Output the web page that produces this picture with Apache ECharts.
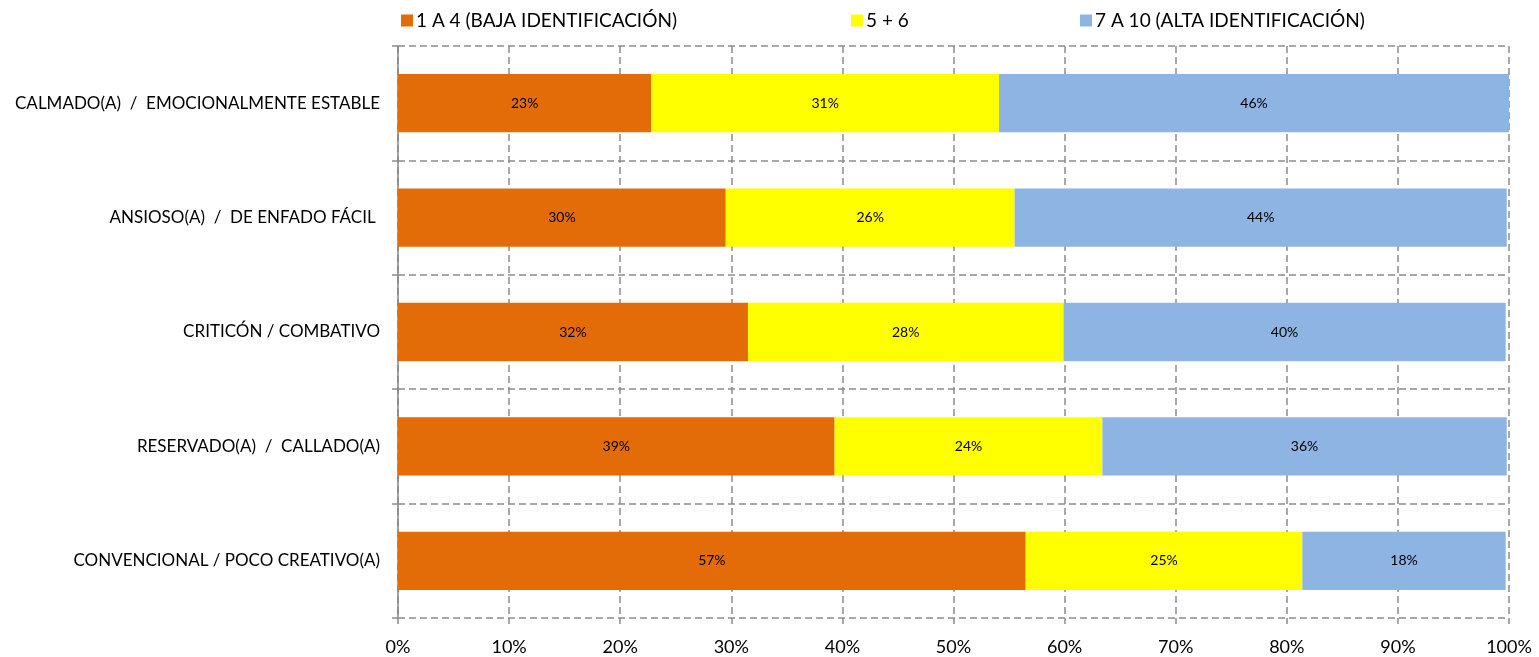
<!DOCTYPE html>
<html>
<head>
<meta charset="utf-8">
<script src="https://cdn.jsdelivr.net/npm/echarts@6/dist/echarts.min.js"></script>
<style>
  html, body { margin: 0; padding: 0; background: #ffffff; }
  #chart { width: 1539px; height: 657px; }
</style>
</head>
<body>
<div id="chart"></div>
<script>
// Rasgos de personalidad, listados de arriba a abajo
const categories = [
  'CALMADO(A)  /  EMOCIONALMENTE ESTABLE',
  'ANSIOSO(A)  /  DE ENFADO FÁCIL ',
  'CRITICÓN / COMBATIVO',
  'RESERVADO(A)  /  CALLADO(A)',
  'CONVENCIONAL / POCO CREATIVO(A)'
];
const seriesNames = ['1 A 4 (BAJA IDENTIFICACIÓN)', '5 + 6', '7 A 10 (ALTA IDENTIFICACIÓN)'];
const bajaValues  = [22.8, 29.5, 31.5, 39.3, 56.5];
const mediaValues = [31.3, 26.0, 28.4, 24.1, 24.9];
const altaValues  = [45.9, 44.3, 39.8, 36.4, 18.3];
const xTicks = [0, 10, 20, 30, 40, 50, 60, 70, 80, 90, 100];

const colors = ['#E36C09', '#FFFF00', '#8EB4E3'];
const FONT = 'Lato';
const gridColor = '#8c8c8c';

const chart = echarts.init(document.getElementById('chart'));

function makeSeries(name, data, color) {
  return {
    name: name,
    type: 'bar',
    stack: 'total',
    barWidth: '51%',
    data: data,
    itemStyle: { color: color },
    label: {
      show: true,
      position: 'inside',
      color: '#000',
      fontFamily: FONT,
      fontSize: 14,
      formatter: p => Math.round(p.value) + '%'
    }
  };
}

function legendAt(left, name) {
  return {
    left: left,
    top: 6,
    data: [name],
    icon: 'rect',
    itemWidth: 12,
    itemHeight: 12,
    itemGap: 4,
    selectedMode: false,
    textStyle: { fontFamily: FONT, fontSize: 19, color: '#000', padding: [0, 0, 0, -2] }
  };
}

chart.setOption({
  animation: false,
  color: colors,
  legend: [
    legendAt(396, seriesNames[0]),
    legendAt(846, seriesNames[1]),
    legendAt(1075, seriesNames[2])
  ],
  grid: { left: 398, right: 30, top: 46, bottom: 39, containLabel: false },
  xAxis: {
    type: 'value',
    min: xTicks[0],
    max: xTicks[xTicks.length - 1],
    interval: xTicks[1] - xTicks[0],
    axisLine: { show: false },
    axisTick: { show: true, length: 6, lineStyle: { color: gridColor, width: 1.5 } },
    axisLabel: {
      formatter: v => v + '%',
      fontFamily: FONT,
      fontSize: 18,
      color: '#000',
      margin: 20
    },
    splitLine: { show: true, lineStyle: { color: gridColor, width: 1.5, type: [7, 4] } }
  },
  yAxis: {
    type: 'category',
    data: categories,
    inverse: true,
    axisLine: { show: true, lineStyle: { color: '#868686', width: 1.5 } },
    axisTick: { show: true, length: 6, lineStyle: { color: gridColor, width: 1.5 } },
    axisLabel: { fontFamily: FONT, fontSize: 17, color: '#000', margin: 18 },
    splitLine: { show: true, lineStyle: { color: gridColor, width: 1.5, type: [7, 4] } }
  },
  series: [
    makeSeries(seriesNames[0], bajaValues, colors[0]),
    makeSeries(seriesNames[1], mediaValues, colors[1]),
    makeSeries(seriesNames[2], altaValues, colors[2])
  ]
});
</script>
</body>
</html>
